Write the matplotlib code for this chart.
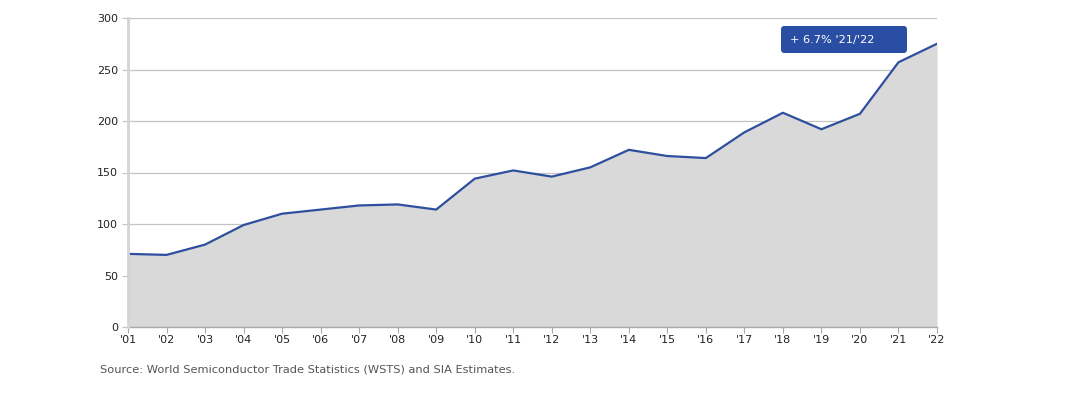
import matplotlib
matplotlib.use("Agg")
import matplotlib.pyplot as plt
from matplotlib.patches import FancyBboxPatch

years = ["'01", "'02", "'03", "'04", "'05", "'06", "'07", "'08", "'09", "'10", "'11",
         "'12", "'13", "'14", "'15", "'16", "'17", "'18", "'19", "'20", "'21", "'22"]
values = [71, 70, 80, 99, 110, 114, 118, 119, 114, 144, 152,
          146, 155, 172, 166, 164, 189, 208, 192, 207, 257, 275]
yticks = [0, 50, 100, 150, 200, 250, 300]
annotation = "+ 6.7% '21/'22"
source = "Source: World Semiconductor Trade Statistics (WSTS) and SIA Estimates."

plt.rcParams['font.family'] = ['DejaVu Sans']
fig = plt.figure(figsize=(10.8, 3.95), dpi=100)
ax = fig.add_axes([128/1080, 68/395, 809/1080, 309/395])

x = list(range(len(years)))
ax.fill_between(x, values, 0, color='#d9d9d9', linewidth=0, zorder=1)
ax.plot(x, values, color='#2e4f9e', linewidth=1.6, zorder=3)

ax.set_xlim(0, len(years) - 1)
ax.set_ylim(0, 300)
ax.set_yticks(yticks)
ax.set_xticks(x)
ax.set_xticklabels(years)
ax.grid(axis='y', color='#c4c4c4', linewidth=0.9, zorder=0)
ax.set_axisbelow(True)

for s in ['top', 'right']:
    ax.spines[s].set_visible(False)
ax.spines['left'].set_color('#d4d4d4')
ax.spines['left'].set_linewidth(2)
ax.spines['left'].set_zorder(4)
ax.spines['bottom'].set_color('#a8a8a8')
ax.spines['bottom'].set_linewidth(1)
ax.tick_params(axis='y', length=4, color='#c4c4c4', labelsize=8, labelcolor='#222222', pad=3)
ax.tick_params(axis='x', length=4, color='#a8a8a8', labelsize=8, labelcolor='#222222', pad=2)

bx0, bx1 = (781 - 128) / 809, (907 - 128) / 809
by0, by1 = (327 - 53) / 309, (327 - 26) / 309
box = FancyBboxPatch((bx0, by0), bx1 - bx0, by1 - by0,
                     boxstyle='round,pad=0,rounding_size=0.004',
                     transform=ax.transAxes, facecolor='#2a4ea3', edgecolor='none',
                     zorder=5, clip_on=False, mutation_aspect=3)
ax.add_patch(box)
ax.text((790 - 128) / 809, (by0 + by1) / 2, annotation, transform=ax.transAxes,
        ha='left', va='center', fontsize=8.2, color='white', zorder=6)

fig.text(100/1080, 1 - 370/395, source, ha='left', va='center', fontsize=8.2, color='#555555')

fig.savefig('out.png', dpi=100)
